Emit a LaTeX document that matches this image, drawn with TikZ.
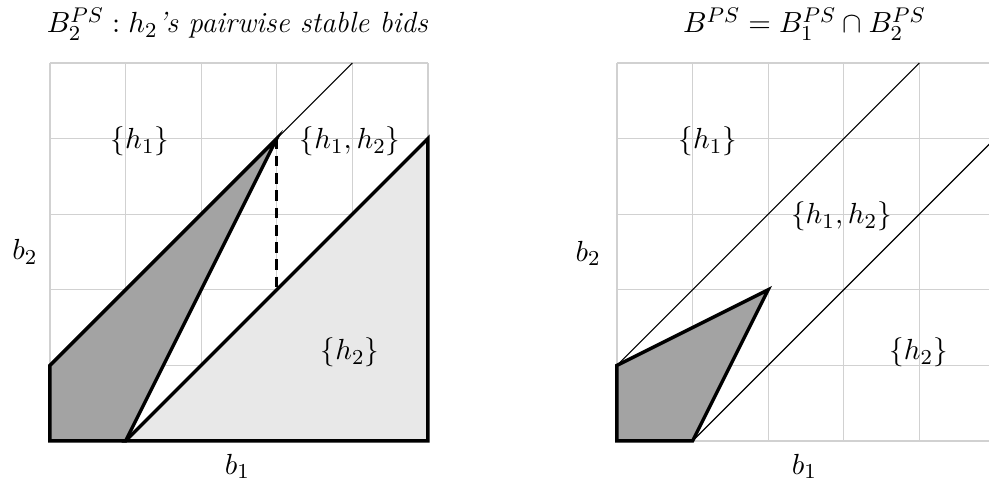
\documentclass[tikz,border=0pt]{standalone}
\begin{document}
\begin{tikzpicture}[x=1cm,y=1cm,
  every node/.style={font=\fontsize{11}{13}\selectfont},
  gridline/.style={draw=black!18, line width=0.5pt},
  bord/.style={draw=black, line width=1.3pt, line join=miter},
  thinline/.style={draw=black, line width=0.45pt},
  darkfill/.style={fill=black!36},
  lightfill/.style={fill=black!9}]
\useasboundingbox (-0.661,-0.542) rectangle (12.421,5.833);
\clip (-0.661,-0.542) rectangle (12.421,5.833);

% ---------- left plot ----------
\begin{scope}
\draw[gridline] (0,0) grid (5,5);
\coordinate (L00) at (0,0);
\coordinate (L10) at (1,0);
\coordinate (L01) at (0,1);
\coordinate (L34) at (3,4);
\coordinate (L32) at (3,2);
\coordinate (L50) at (5,0);
\coordinate (L54) at (5,4);
\coordinate (L45) at (4,5);
\path[lightfill] (L10) -- (L50) -- (L54) -- cycle;
\draw[bord] (L10) -- (L50) -- (L54) -- cycle;
\path[darkfill] (L00) -- (L10) -- (L34) -- (L01) -- cycle;
\draw[bord] (L00) -- (L10) -- (L34) -- (L01) -- cycle;
\draw[thinline] (L34) -- (L45);
\draw[black, line width=1pt, dash pattern=on 4pt off 2.5pt] (L34) -- (L32);
\node (lh1) at (1.19,3.96) {$\{h_1\}$};
\node (lh12) at (3.97,3.96) {$\{h_1,h_2\}$};
\node (lh2) at (3.97,1.17) {$\{h_2\}$};
\node (lb1) at (2.48,-0.34) {$b_1$};
\node (lb2) at (-0.33,2.5) {$b_2$};
\node[anchor=base] (ltitle) at (2.48,5.4) {$B_2^{PS}: h_2$\textit{'s pairwise stable bids}};
\end{scope}

% ---------- right plot ----------
\begin{scope}[xshift=7.5cm]
\draw[gridline] (0,0) grid (5,5);
\coordinate (R00) at (0,0);
\coordinate (R10) at (1,0);
\coordinate (R01) at (0,1);
\coordinate (R22) at (2,2);
\coordinate (R45) at (4,5);
\coordinate (R54) at (5,4);
\draw[thinline] (R01) -- (R45);
\draw[thinline] (R10) -- (R54);
\path[darkfill] (R00) -- (R10) -- (R22) -- (R01) -- cycle;
\draw[bord] (R00) -- (R10) -- (R22) -- (R01) -- cycle;
\node (rh1) at (1.2,3.96) {$\{h_1\}$};
\node (rh12) at (2.97,2.97) {$\{h_1,h_2\}$};
\node (rh2) at (3.99,1.17) {$\{h_2\}$};
\node (rb1) at (2.48,-0.34) {$b_1$};
\node (rb2) at (-0.38,2.48) {$b_2$};
\node[anchor=base] (rtitle) at (2.48,5.4) {$B^{PS} = B_1^{PS} \cap B_2^{PS}$};
\end{scope}
\end{tikzpicture}
\end{document}
